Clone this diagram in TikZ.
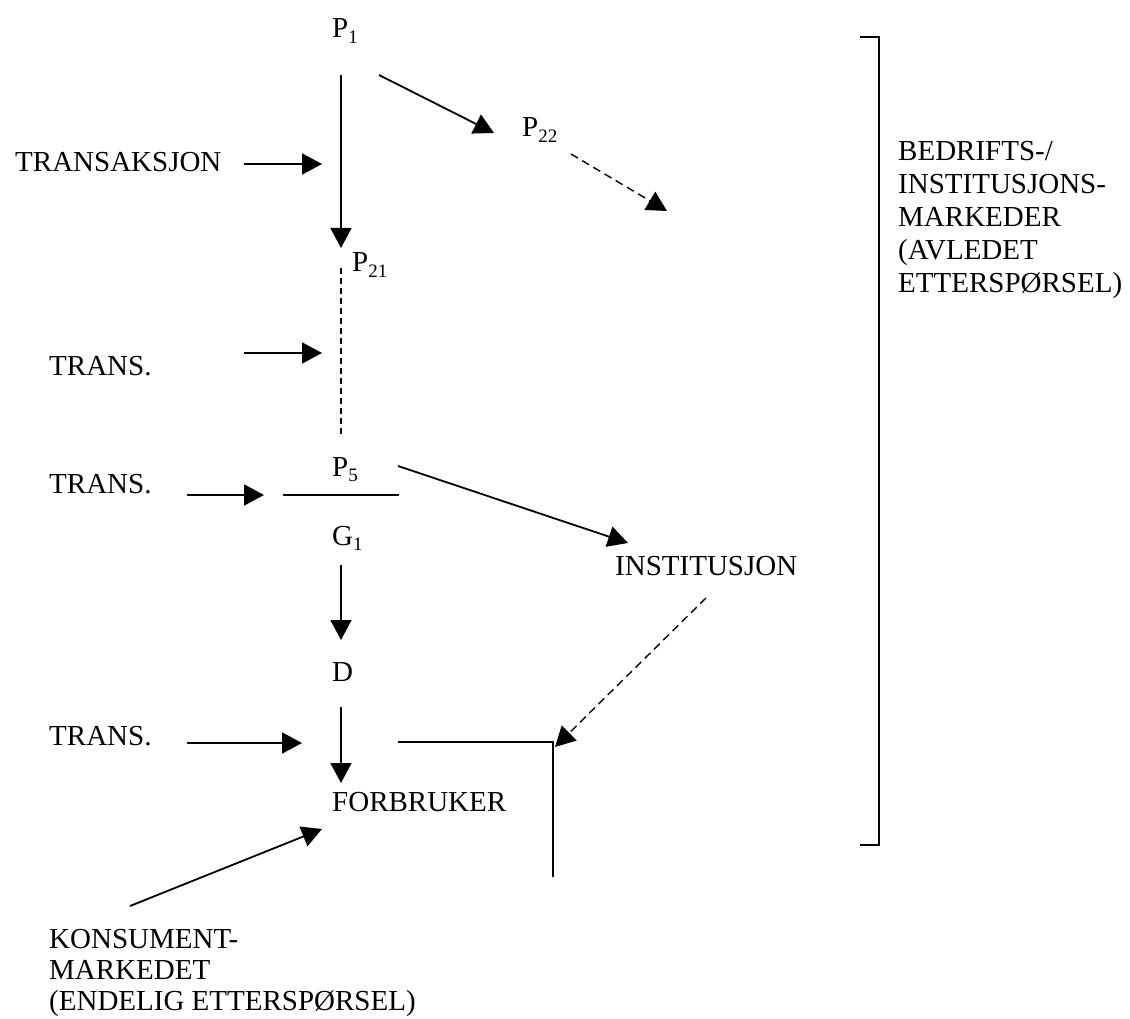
\documentclass[tikz,border=0pt]{standalone}
\usepackage{fontspec}
\setmainfont{Liberation Serif}
\usetikzlibrary{arrows.meta}
\newcommand\sbs[1]{\raisebox{-0.2em}{\fontsize{19}{19}\selectfont #1}}
\begin{document}
\begin{tikzpicture}[x=1pt,y=-1pt,
  lbl/.style={inner sep=0pt,anchor=base west,font=\fontsize{29}{36}\selectfont},
  blk/.style={inner sep=0pt,anchor=north west,align=left,font=\fontsize{29}{36}\selectfont},
  arr/.style={line width=1.8pt,-{Triangle[length=20pt,width=21pt]}},
  darr/.style={line width=1.4pt,dash pattern=on 8pt off 5pt,-{Triangle[length=20pt,width=21pt]}},
  ln/.style={line width=1.8pt},
  dln/.style={line width=1.3pt,dash pattern=on 6pt off 4pt}]
\useasboundingbox (0,0) rectangle (1130,1019);
% texts
\node[lbl] (p1) at (332,38) {P\sbs{1}};
\node[lbl] (p22) at (522,137) {P\sbs{22}};
\node[lbl] (p21) at (352,272) {P\sbs{21}};
\node[lbl] (p5) at (332,476) {P\sbs{5}};
\node[lbl] (g1) at (332,545) {G\sbs{1}};
\node[lbl] (d) at (332,681) {D};
\node[lbl] (inst) at (615,575) {INSTITUSJON};
\node[lbl] (forb) at (332,811) {FORBRUKER};
\node[lbl] (tr1) at (15,172) {TRANSAKSJON};
\node[lbl] (tr2) at (49,375) {TRANS.};
\node[lbl] (tr3) at (49,493) {TRANS.};
\node[lbl] (tr4) at (49,745) {TRANS.};
\node[blk,font=\fontsize{29}{33}\selectfont] (bed) at (898,141) {BEDRIFTS-/\\INSTITUSJONS-\\MARKEDER\\(AVLEDET\\ETTERSPØRSEL)};
\node[blk,font=\fontsize{29}{31}\selectfont] (kons) at (49,929) {KONSUMENT-\\MARKEDET\\(ENDELIG ETTERSPØRSEL)};
% connector ends
\coordinate (a1s) at (341,75);   \coordinate (a1e) at (341,248);
\coordinate (a2s) at (379,75);   \coordinate (a2e) at (494,133);
\coordinate (a3s) at (571,154);  \coordinate (a3e) at (667,211);
\coordinate (t1s) at (244,164);  \coordinate (t1e) at (322,164);
\coordinate (d1s) at (341,268);  \coordinate (d1e) at (341,437);
\coordinate (t2s) at (244,353);  \coordinate (t2e) at (322,353);
\coordinate (t3s) at (187,495);  \coordinate (t3e) at (264,495);
\coordinate (h1s) at (283,495);  \coordinate (h1e) at (399,495);
\coordinate (a4s) at (398,466);  \coordinate (a4e) at (628,543);
\coordinate (a5s) at (341,565);  \coordinate (a5e) at (341,640);
\coordinate (a6s) at (706,598);  \coordinate (a6e) at (555,747);
\coordinate (a7s) at (341,707);  \coordinate (a7e) at (341,783);
\coordinate (t4s) at (187,743);  \coordinate (t4e) at (302,743);
\coordinate (h2s) at (398,742);  \coordinate (h2c) at (553,742);  \coordinate (h2e) at (553,877);
\coordinate (a8s) at (130,906);  \coordinate (a8e) at (322,829);
\coordinate (b1) at (860,37); \coordinate (b2) at (879,37); \coordinate (b3) at (879,845); \coordinate (b4) at (860,845);
% connectors
\draw[arr] (a1s) -- (a1e);
\draw[arr] (a2s) -- (a2e);
\draw[darr] (a3s) -- (a3e);
\draw[arr] (t1s) -- (t1e);
\draw[dln] (d1s) -- (d1e);
\draw[arr] (t2s) -- (t2e);
\draw[arr] (t3s) -- (t3e);
\draw[ln] (h1s) -- (h1e);
\draw[arr] (a4s) -- (a4e);
\draw[arr] (a5s) -- (a5e);
\draw[darr] (a6s) -- (a6e);
\draw[arr] (a7s) -- (a7e);
\draw[arr] (t4s) -- (t4e);
\draw[ln] (h2s) -- (h2c) -- (h2e);
\draw[arr] (a8s) -- (a8e);
\draw[ln] (b1) -- (b2) -- (b3) -- (b4);
\end{tikzpicture}
\end{document}
